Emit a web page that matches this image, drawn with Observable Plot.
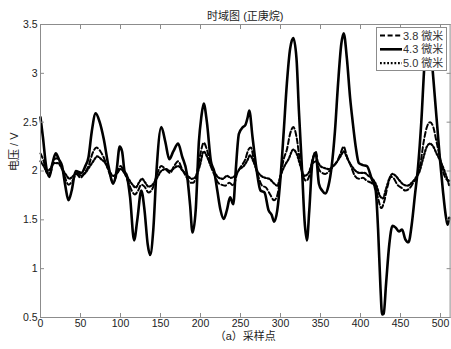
<!DOCTYPE html>
<html><head><meta charset="utf-8">
<script src="https://cdn.jsdelivr.net/npm/d3@7"></script>
<script src="https://cdn.jsdelivr.net/npm/@observablehq/plot@0.6"></script>
<style>
body{margin:0;background:#fff;}
#wrap{position:relative;width:451px;height:349px;}
#legend{position:absolute;left:376px;top:27px;width:69px;height:42px;border:1px solid #8c8c8c;background:#fff;}
#legend text{font-family:'Liberation Sans','Noto Sans CJK SC',sans-serif;font-size:11px;fill:#333;}
</style></head><body><div id="wrap"></div>
<script>
const titleText = "时域图 (正庚烷)";
const xLabel = "（a）采样点";
const yLabel = "电压 / V";
const seriesNames = ["3.8 微米", "4.3 微米", "5.0 微米"];
const xTicks = [0, 50, 100, 150, 200, 250, 300, 350, 400, 450, 500];
const yTicks = [0.5, 1, 1.5, 2, 2.5, 3, 3.5];

// 3.8 微米 (dashed)
const x38 = [0,4,8,12,17,21,26,30,35,40,45,50,55,60,65,70,75,80,86,91,96,100,105,110,114,118,122,126,130,135,140,145,151,156,162,167,172,177,183,187,191,196,200,204,208,213,218,222,226,231,236,241,246,251,256,260,263,267,272,277,282,287,292,296,300,304,308,312,316,320,324,328,332,336,340,344,348,352,356,361,366,371,375,379,383,388,393,398,403,408,413,418,422,426,430,434,438,442,446,451,456,461,466,471,475,479,483,487,491,495,499,503,507,511];
const y38 = [2.18,2.10,1.98,1.98,2.12,2.13,2.05,1.95,1.86,1.90,1.97,1.93,1.98,2.05,2.18,2.24,2.20,2.12,1.98,1.88,1.98,2.05,1.98,1.88,1.80,1.76,1.80,1.86,1.84,1.78,1.82,1.95,2.05,2.02,1.98,2.05,2.10,2.02,1.93,1.88,1.88,2.00,2.18,2.29,2.22,2.05,1.95,1.88,1.86,1.85,1.88,1.85,1.98,2.05,2.12,2.22,2.24,2.10,1.95,1.85,1.83,1.76,1.70,1.75,1.95,2.12,2.22,2.38,2.45,2.35,2.12,1.95,1.90,1.95,2.12,2.20,2.02,1.98,1.97,2.00,2.05,2.10,2.18,2.25,2.15,2.05,1.95,1.92,1.93,1.90,1.88,1.85,1.72,1.62,1.70,1.85,1.94,1.92,1.86,1.83,1.80,1.82,1.88,1.95,2.08,2.30,2.45,2.50,2.45,2.30,2.15,2.00,1.92,1.90];

// 4.3 微米 (solid)
const x43 = [0,3,7,11,15,19,23,27,31,35,39,44,51,56,60,64,69,74,79,85,91,95,99,102,105,108,112,117,121,126,130,134,137,141,145,151,156,161,166,172,177,183,187,190,194,198,201,204,208,213,217,221,225,229,233,237,241,244,248,253,256,259,261,265,270,275,280,285,289,292,296,300,304,308,312,316,320,323,327,330,333,336,340,344,348,352,356,360,364,368,372,376,379,383,387,390,394,398,403,408,414,419,422,425,427,429,432,436,440,444,448,452,456,460,464,468,472,476,480,484,487,491,495,499,503,507,509,511];
const y43 = [2.55,2.35,2.05,1.94,2.08,2.18,2.12,2.05,1.85,1.70,1.80,2.00,1.98,2.05,2.14,2.40,2.59,2.50,2.33,2.05,1.87,2.00,2.25,2.20,2.00,1.95,1.73,1.29,1.50,1.80,1.60,1.25,1.14,1.40,2.00,2.45,2.30,2.12,2.20,2.28,2.15,1.97,1.65,1.37,1.60,2.30,2.55,2.69,2.50,2.10,2.00,1.80,1.60,1.51,1.60,1.73,1.66,2.00,2.38,2.45,2.47,2.55,2.62,2.35,2.02,1.80,1.78,1.60,1.55,1.48,1.60,1.93,2.40,2.90,3.25,3.36,3.15,2.62,2.00,1.50,1.29,1.60,2.10,2.18,1.87,1.80,1.77,1.85,2.05,2.40,2.90,3.30,3.41,3.15,2.75,2.52,2.25,2.08,2.06,2.05,1.92,1.80,1.40,0.80,0.53,0.54,0.85,1.25,1.44,1.42,1.38,1.40,1.30,1.27,1.45,1.75,2.05,2.50,3.10,3.45,3.35,2.95,2.55,2.15,1.80,1.52,1.45,1.52];

// 5.0 微米 (dotted)
const x50 = [0,4,8,12,17,22,27,32,36,41,46,51,56,61,66,71,76,81,86,91,96,100,105,110,115,119,123,127,131,135,140,145,151,157,162,167,172,178,184,189,194,199,204,208,213,218,223,228,233,238,243,249,254,258,262,266,271,276,281,286,291,296,300,305,310,316,320,325,330,335,340,345,350,355,360,366,371,375,379,384,389,394,399,405,410,415,420,424,428,432,436,440,444,449,454,459,464,469,474,478,483,487,491,495,500,505,511];
const y50 = [2.10,2.05,2.00,2.02,2.08,2.08,2.02,1.96,1.92,1.95,1.98,1.95,1.98,2.04,2.10,2.15,2.12,2.08,2.00,1.95,1.98,2.02,1.98,1.92,1.86,1.83,1.88,1.92,1.88,1.84,1.86,1.92,2.00,2.02,2.00,2.03,2.05,2.00,1.95,1.92,1.94,2.05,2.20,2.15,2.05,1.98,1.93,1.92,1.95,1.93,1.95,2.02,2.05,2.10,2.16,2.10,2.00,1.95,1.93,1.92,1.88,1.85,1.95,2.05,2.12,2.22,2.18,2.05,1.95,1.98,2.08,2.10,2.05,2.03,2.02,2.05,2.10,2.15,2.20,2.12,2.05,2.00,1.98,1.98,1.95,1.92,1.85,1.75,1.72,1.82,1.92,1.97,1.95,1.90,1.86,1.85,1.88,1.93,2.00,2.12,2.25,2.28,2.25,2.18,2.10,2.00,1.85];

const series = [
  {name: seriesNames[0], xs: x38, ys: y38, width: 2, dash: "5,2.6"},
  {name: seriesNames[1], xs: x43, ys: y43, width: 2.6, dash: null},
  {name: seriesNames[2], xs: x50, ys: y50, width: 2.2, dash: "1.8,1.8"}
];

const font = "'Liberation Sans','Noto Sans CJK SC',sans-serif";
const lineMarks = series.map(s => Plot.line(s.xs.map((x, i) => ({x, y: s.ys[i]})), {
  x: "x", y: "y", stroke: "#000", strokeWidth: s.width, strokeDasharray: s.dash,
  curve: "monotone-x", strokeLinejoin: "round"
}));

const chart = Plot.plot({
  width: 451, height: 349,
  marginLeft: 40, marginRight: 1.4, marginTop: 24, marginBottom: 32,
  style: {fontFamily: font, fontSize: "11px", color: "#222", background: "#fff"},
  x: {domain: [0, 512]},
  y: {domain: [0.5, 3.5]},
  marks: [
    ...lineMarks,
    Plot.frame({stroke: "#8c8c8c"}),
    Plot.axisX(xTicks, {anchor: "bottom", tickSize: 0, tickPadding: 2, label: null, fontSize: 10.5}),
    Plot.axisX(xTicks, {anchor: "bottom", tickSize: -4, text: null, label: null, stroke: "#8c8c8c"}),
    Plot.axisX(xTicks, {anchor: "top", tickSize: -4, text: null, label: null, stroke: "#8c8c8c"}),
    Plot.axisY(yTicks, {anchor: "left", tickSize: 0, tickPadding: 3, label: null, tickFormat: d => String(d), fontSize: 10.5}),
    Plot.axisY(yTicks, {anchor: "left", tickSize: -4, text: null, label: null, stroke: "#8c8c8c"}),
    Plot.axisY(yTicks, {anchor: "right", tickSize: -4, text: null, label: null, stroke: "#8c8c8c"}),
    Plot.text([titleText], {frameAnchor: "top", dy: -12, text: d => d, fontSize: 11, fill: "#222"}),
    Plot.text([xLabel], {frameAnchor: "bottom", dy: 22, text: d => d, fontSize: 11, fill: "#222"}),
    Plot.text([yLabel], {frameAnchor: "left", dx: -26, rotate: -90, text: d => d, fontSize: 11, fill: "#222"})
  ]
});

const wrap = document.getElementById("wrap");
wrap.appendChild(chart);

// legend overlay
const leg = document.createElement("div");
leg.id = "legend";
const ns = "http://www.w3.org/2000/svg";
const svg = document.createElementNS(ns, "svg");
svg.setAttribute("width", 69); svg.setAttribute("height", 42);
series.forEach((s, i) => {
  const yy = 7.5 + i * 13.8;
  const ln = document.createElementNS(ns, "line");
  ln.setAttribute("x1", 3); ln.setAttribute("x2", 25);
  ln.setAttribute("y1", yy); ln.setAttribute("y2", yy);
  ln.setAttribute("stroke", "#000");
  ln.setAttribute("stroke-width", s.width);
  if (s.dash) ln.setAttribute("stroke-dasharray", s.dash);
  svg.appendChild(ln);
  const tx = document.createElementNS(ns, "text");
  tx.setAttribute("x", 26); tx.setAttribute("y", yy + 4);
  tx.textContent = s.name;
  svg.appendChild(tx);
});
leg.appendChild(svg);
wrap.appendChild(leg);
</script>
</body></html>
